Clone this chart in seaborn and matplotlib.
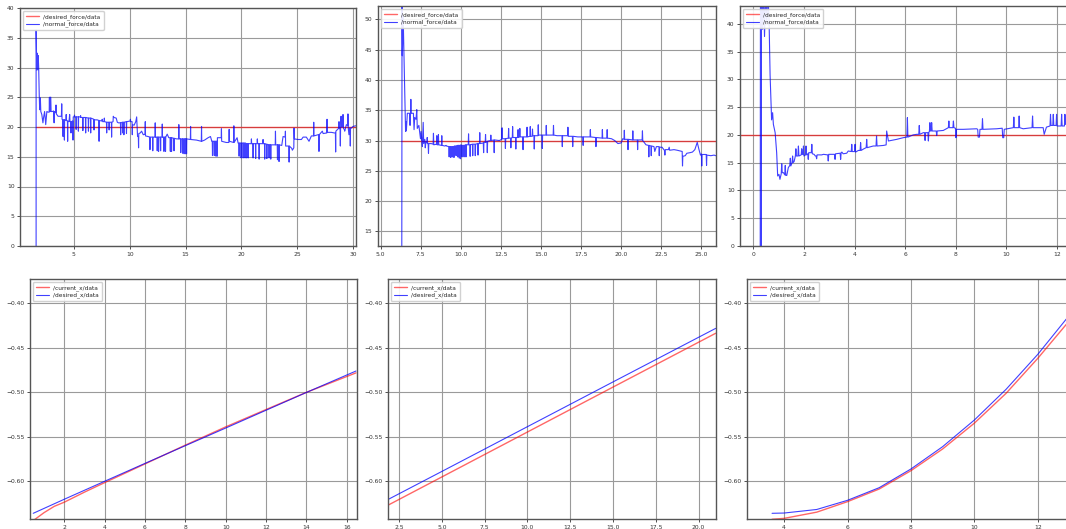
import matplotlib
matplotlib.use("Agg")
import matplotlib.pyplot as plt
import seaborn as sns
from matplotlib.ticker import MultipleLocator

# ------------------------------------------------------------------
# run 1 : force tracking, target 20   (time s, force N)
# ------------------------------------------------------------------
run1 = [(1.64, 0.0), (1.64, 36.3), (1.70, 29.6), (1.75, 32.4), (1.79, 29.6), (1.83, 32.0), (1.87, 30.0),
        (1.92, 25.4), (1.96, 22.9), (2.02, 24.9), (2.06, 22.6), (2.15, 22.1), (2.25, 20.7), (2.30, 21.5),
        (2.40, 22.6), (2.50, 20.4), (2.60, 22.6), (2.70, 22.5), (2.81, 22.5), (2.83, 25.0), (2.85, 22.6),
        (2.90, 22.6), (2.92, 25.0), (2.95, 25.0), (2.98, 22.6), (3.10, 22.6), (3.20, 22.7), (3.25, 20.7),
        (3.28, 22.6), (3.40, 22.4), (3.42, 23.7), (3.45, 22.2), (3.60, 21.8), (3.90, 21.8), (3.93, 23.9),
        (3.96, 21.3), (4.03, 21.2), (4.05, 18.4), (4.07, 21.2), (4.15, 21.2), (4.17, 17.8), (4.19, 21.2),
        (4.30, 21.1), (4.33, 22.1), (4.36, 21.1), (4.44, 21.0), (4.46, 17.6), (4.48, 21.0), (4.58, 20.9),
        (4.64, 22.1), (4.67, 20.9), (4.74, 20.9), (4.76, 19.0), (4.78, 20.9), (4.92, 21.0), (4.94, 17.8),
        (4.96, 21.7), (5.05, 21.7), (5.07, 22.0), (5.10, 21.7), (5.20, 21.7), (5.22, 19.6), (5.24, 21.7),
        (5.40, 21.7), (5.42, 19.3), (5.44, 21.7), (5.60, 21.7), (5.62, 21.9), (5.64, 21.6), (5.80, 21.6),
        (5.82, 19.4), (5.84, 21.6), (6.05, 21.6), (6.07, 19.0), (6.09, 21.6), (6.30, 21.5), (6.32, 19.3),
        (6.34, 21.5), (6.50, 21.5), (6.52, 19.0), (6.54, 21.5), (6.80, 21.3), (6.82, 19.5), (6.84, 21.2),
        (7.10, 21.2), (7.25, 21.1), (7.27, 17.6), (7.29, 21.1), (7.50, 21.0), (7.55, 21.3), (7.60, 20.9),
        (7.72, 20.9), (7.74, 21.5), (7.76, 20.9), (7.93, 20.8), (7.95, 19.0), (7.97, 20.8), (8.15, 20.8),
        (8.17, 19.5), (8.19, 20.8), (8.37, 20.8), (8.39, 18.3), (8.41, 20.8), (8.52, 20.9), (8.54, 21.8),
        (8.60, 21.6), (8.80, 21.5), (8.90, 20.8), (9.00, 20.7), (9.18, 20.7), (9.20, 18.7), (9.22, 20.7),
        (9.35, 20.8), (9.37, 19.0), (9.39, 20.8), (9.47, 20.8), (9.49, 18.7), (9.51, 20.8), (9.70, 20.9),
        (9.72, 18.9), (9.74, 20.9), (10.05, 21.0), (10.07, 21.3), (10.10, 20.9), (10.22, 20.9),
        (10.24, 18.7), (10.26, 20.4), (10.40, 20.3), (10.55, 20.9), (10.63, 21.7), (10.68, 19.5),
        (10.71, 18.4), (10.78, 18.4), (10.80, 16.5), (10.82, 18.9), (10.95, 19.0), (11.07, 19.3),
        (11.22, 18.7), (11.38, 18.8), (11.40, 20.9), (11.42, 18.5), (11.65, 18.4), (11.80, 18.3),
        (11.82, 16.2), (11.84, 18.3), (12.05, 18.3), (12.07, 16.0), (12.09, 18.3), (12.27, 18.3),
        (12.29, 20.7), (12.31, 18.3), (12.45, 18.3), (12.47, 16.0), (12.49, 18.3), (12.57, 18.3),
        (12.59, 15.9), (12.61, 18.3), (12.75, 18.3), (12.77, 16.0), (12.79, 18.3), (12.90, 18.3),
        (12.92, 20.5), (12.94, 18.3), (13.05, 18.3), (13.07, 15.9), (13.09, 18.3), (13.19, 18.3),
        (13.21, 15.9), (13.23, 18.3), (13.36, 18.8), (13.50, 18.2), (13.62, 18.2), (13.64, 15.9),
        (13.66, 18.2), (13.73, 18.2), (13.75, 15.9), (13.77, 18.2), (13.95, 18.1), (13.97, 16.0),
        (13.99, 18.1), (14.20, 18.0), (14.38, 18.0), (14.40, 20.4), (14.42, 18.0), (14.55, 18.0),
        (14.57, 15.7), (14.59, 18.0), (14.71, 18.0), (14.73, 15.6), (14.75, 18.0), (14.85, 18.0),
        (14.87, 15.5), (14.89, 18.0), (14.97, 18.0), (14.99, 15.5), (15.01, 18.0), (15.07, 18.0),
        (15.09, 15.5), (15.11, 18.0), (15.43, 17.9), (15.45, 20.1), (15.47, 17.9), (15.98, 17.8),
        (16.41, 17.6), (16.43, 20.1), (16.45, 17.6), (16.70, 17.8), (17.02, 18.2), (17.23, 18.4),
        (17.35, 17.6), (17.39, 17.6), (17.41, 15.2), (17.43, 17.6), (17.55, 17.6), (17.57, 15.2),
        (17.59, 17.6), (17.70, 17.6), (17.72, 15.1), (17.74, 17.6), (17.81, 17.6), (17.83, 15.1),
        (17.85, 18.2), (18.19, 18.2), (18.21, 19.7), (18.23, 17.6), (18.64, 17.4), (18.88, 17.4),
        (18.90, 19.6), (18.92, 17.6), (19.30, 17.4), (19.32, 20.2), (19.34, 17.4), (19.61, 18.2),
        (19.70, 17.3), (19.77, 17.3), (19.79, 15.1), (19.81, 17.3), (19.95, 17.3), (19.97, 14.8),
        (19.99, 17.3), (20.13, 17.3), (20.15, 14.8), (20.17, 17.3), (20.30, 17.3), (20.32, 14.8),
        (20.34, 17.3), (20.45, 17.2), (20.47, 14.8), (20.49, 17.2), (20.58, 17.2), (20.60, 14.8),
        (20.62, 17.2), (20.87, 17.2), (20.89, 18.0), (20.91, 17.2), (21.02, 17.2), (21.04, 14.8),
        (21.06, 17.2), (21.25, 17.2), (21.27, 14.7), (21.29, 17.2), (21.40, 17.2), (21.42, 18.0),
        (21.44, 17.2), (21.56, 17.2), (21.58, 14.6), (21.60, 17.2), (21.91, 17.2), (21.93, 17.9),
        (21.95, 17.2), (22.06, 17.2), (22.08, 14.6), (22.10, 17.2), (22.25, 17.1), (22.27, 14.7),
        (22.29, 17.1), (22.45, 17.0), (22.47, 14.8), (22.49, 17.0), (22.60, 17.0), (22.62, 14.6),
        (22.64, 17.0), (22.83, 17.0), (23.02, 17.0), (23.04, 19.3), (23.06, 17.0), (23.20, 17.0),
        (23.22, 14.5), (23.24, 17.0), (23.34, 17.0), (23.36, 14.2), (23.38, 17.0), (23.60, 16.9),
        (23.72, 18.4), (23.91, 18.3), (23.93, 19.3), (23.95, 16.8), (24.24, 16.8), (24.26, 14.1),
        (24.28, 16.8), (24.50, 16.4), (24.55, 16.1), (24.68, 16.5), (24.70, 19.8), (24.73, 18.0),
        (25.06, 17.9), (25.36, 17.9), (25.51, 18.3), (25.80, 18.3), (26.04, 17.6), (26.25, 18.5),
        (26.44, 18.5), (26.46, 20.8), (26.48, 18.5), (26.85, 18.7), (26.91, 18.7), (26.93, 15.9),
        (26.95, 18.7), (27.23, 19.3), (27.30, 18.9), (27.63, 19.0), (27.65, 21.3), (27.67, 19.1),
        (28.04, 19.1), (28.30, 19.0), (28.40, 19.0), (28.42, 15.8), (28.44, 19.3), (28.60, 19.6),
        (28.70, 19.8), (28.72, 20.9), (28.74, 19.8), (28.82, 19.6), (28.84, 16.8), (28.86, 19.6),
        (28.90, 21.8), (28.95, 20.0), (29.00, 21.8), (29.05, 20.0), (29.08, 22.1), (29.12, 19.8),
        (29.21, 19.5), (29.23, 19.3), (29.38, 20.4), (29.50, 20.2), (29.52, 22.2), (29.55, 19.8),
        (29.61, 18.7), (29.66, 19.8), (29.71, 19.8), (29.73, 16.8), (29.75, 19.8), (29.82, 19.8),
        (29.97, 20.1), (30.21, 20.2)]
des1 = [(1.64, 20.0), (30.3, 20.0)]

# ------------------------------------------------------------------
# run 2 : force tracking, target 30
# ------------------------------------------------------------------
run2 = [(6.31, 0.0), (6.33, 52.5), (6.35, 44.0), (6.40, 50.5), (6.44, 45.5), (6.48, 40.0), (6.52, 35.1),
        (6.55, 31.5), (6.57, 33.1), (6.60, 31.6), (6.66, 34.5), (6.80, 34.5), (6.83, 32.5), (6.86, 34.5),
        (6.88, 36.8), (6.90, 34.5), (7.04, 34.5), (7.08, 31.8), (7.12, 33.8), (7.20, 33.5), (7.25, 35.1),
        (7.28, 32.0), (7.38, 32.5), (7.45, 31.0), (7.48, 30.3), (7.52, 31.5), (7.56, 30.0), (7.60, 29.0),
        (7.62, 30.5), (7.65, 33.0), (7.68, 29.5), (7.75, 30.2), (7.78, 28.8), (7.82, 29.8), (7.88, 29.6),
        (7.90, 30.5), (7.93, 29.5), (7.96, 29.4), (7.98, 27.9), (8.00, 29.5), (8.15, 29.5), (8.27, 29.4),
        (8.29, 31.2), (8.31, 29.3), (8.48, 29.4), (8.50, 30.8), (8.52, 29.3), (8.58, 29.3), (8.60, 31.0),
        (8.62, 29.3), (8.79, 29.2), (8.81, 30.8), (8.83, 29.2), (9.00, 29.1), (9.08, 29.2), (9.10, 29.1),
        (9.25, 29.0), (9.27, 27.3), (9.29, 29.0), (9.35, 29.0), (9.37, 27.2), (9.39, 29.0), (9.45, 29.0),
        (9.47, 27.3), (9.49, 29.0), (9.55, 29.0), (9.57, 27.2), (9.59, 29.1), (9.68, 29.1), (9.70, 27.5),
        (9.72, 29.1), (9.78, 29.2), (9.80, 27.3), (9.82, 29.2), (9.88, 29.2), (9.90, 27.1), (9.92, 29.2),
        (9.96, 29.2), (9.98, 27.0), (10.00, 29.3), (10.06, 29.2), (10.08, 27.3), (10.10, 29.2),
        (10.18, 29.2), (10.20, 27.3), (10.22, 29.2), (10.30, 29.3), (10.32, 27.3), (10.34, 29.3),
        (10.46, 29.3), (10.48, 31.1), (10.50, 29.3), (10.56, 29.3), (10.58, 27.4), (10.60, 29.3),
        (10.72, 29.4), (10.74, 27.5), (10.76, 29.4), (10.88, 29.4), (10.90, 27.5), (10.92, 29.4),
        (11.05, 29.5), (11.07, 27.6), (11.09, 29.5), (11.16, 29.5), (11.18, 31.3), (11.20, 29.5),
        (11.40, 29.6), (11.42, 28.0), (11.44, 29.7), (11.52, 29.7), (11.54, 31.0), (11.56, 29.7),
        (11.63, 29.8), (11.65, 28.0), (11.67, 29.9), (11.85, 30.0), (11.87, 30.9), (11.89, 30.0),
        (12.06, 30.1), (12.08, 28.0), (12.10, 30.1), (12.40, 30.0), (12.55, 30.2), (12.57, 32.1),
        (12.59, 30.3), (12.76, 30.3), (12.78, 28.7), (12.80, 30.3), (12.96, 30.4), (12.98, 32.0),
        (13.00, 30.4), (13.10, 30.4), (13.12, 28.8), (13.14, 30.4), (13.21, 30.5), (13.23, 32.3),
        (13.25, 30.5), (13.41, 30.5), (13.43, 28.6), (13.45, 30.5), (13.55, 30.5), (13.57, 31.8),
        (13.59, 30.5), (13.66, 30.6), (13.68, 32.0), (13.70, 30.6), (13.86, 30.6), (13.88, 28.5),
        (13.90, 30.6), (14.11, 30.6), (14.13, 32.2), (14.15, 30.6), (14.31, 30.7), (14.33, 32.3),
        (14.35, 30.7), (14.45, 30.7), (14.47, 31.9), (14.49, 30.8), (14.56, 30.8), (14.58, 28.6),
        (14.60, 30.8), (14.81, 30.8), (14.83, 32.6), (14.85, 30.9), (15.06, 30.9), (15.08, 28.7),
        (15.10, 30.9), (15.31, 30.9), (15.33, 32.5), (15.35, 30.9), (15.76, 30.9), (15.78, 32.5),
        (15.80, 30.9), (16.00, 30.8), (16.31, 30.8), (16.33, 29.0), (16.35, 30.8), (16.66, 30.8),
        (16.68, 32.2), (16.70, 30.7), (16.96, 30.7), (16.98, 29.0), (17.00, 30.7), (17.30, 30.6),
        (17.61, 30.6), (17.63, 29.2), (17.65, 30.6), (18.06, 30.6), (18.08, 31.8), (18.10, 30.6),
        (18.41, 30.5), (18.43, 29.0), (18.45, 30.5), (18.81, 30.4), (18.83, 31.8), (18.85, 30.4),
        (19.11, 30.4), (19.13, 31.8), (19.15, 30.4), (19.40, 30.3), (19.60, 30.0), (19.80, 29.5),
        (20.00, 29.6), (20.10, 30.3), (20.18, 30.2), (20.20, 31.7), (20.22, 30.2), (20.41, 30.2),
        (20.43, 28.5), (20.45, 30.2), (20.71, 30.1), (20.73, 31.6), (20.75, 30.1), (21.01, 30.1),
        (21.03, 28.5), (21.05, 30.1), (21.31, 30.1), (21.33, 31.6), (21.35, 30.0), (21.55, 29.3),
        (21.71, 29.2), (21.73, 27.3), (21.75, 29.2), (21.86, 29.1), (21.88, 27.5), (21.90, 29.1),
        (22.05, 29.0), (22.10, 28.2), (22.20, 29.0), (22.36, 29.0), (22.38, 27.5), (22.40, 28.9),
        (22.55, 28.9), (22.70, 28.4), (22.73, 27.6), (22.76, 28.5), (22.95, 28.5), (23.00, 28.9),
        (23.03, 28.4), (23.30, 28.5), (23.50, 28.4), (23.65, 28.3), (23.81, 28.2), (23.83, 25.8),
        (23.85, 27.4), (24.00, 27.5), (24.10, 27.9), (24.30, 28.0), (24.45, 28.1), (24.60, 28.5),
        (24.75, 29.7), (24.85, 28.6), (24.95, 27.6), (25.01, 27.8), (25.03, 25.8), (25.05, 27.7),
        (25.31, 27.7), (25.33, 25.9), (25.35, 27.6), (25.60, 27.5), (25.80, 27.6), (25.90, 27.5)]
des2 = [(6.27, 30.0), (26.0, 30.0)]

# ------------------------------------------------------------------
# run 3 : force tracking, target 20
# ------------------------------------------------------------------
run3 = [(0.27, 0.0), (0.28, 55.0), (0.31, 0.0), (0.32, 55.0), (0.36, 39.0), (0.40, 46.0), (0.44, 37.7),
        (0.48, 46.0), (0.53, 40.0), (0.57, 46.0), (0.62, 40.5), (0.66, 30.8), (0.72, 22.7), (0.76, 24.0),
        (0.79, 21.9), (0.86, 20.4), (0.92, 16.8), (0.96, 12.6), (1.01, 12.9), (1.05, 12.0), (1.10, 13.0),
        (1.12, 14.8), (1.14, 13.2), (1.19, 13.2), (1.24, 12.8), (1.26, 14.5), (1.28, 12.7), (1.32, 12.7),
        (1.38, 14.1), (1.44, 14.5), (1.46, 15.8), (1.48, 14.4), (1.53, 15.0), (1.55, 16.2), (1.57, 15.0),
        (1.61, 15.2), (1.66, 16.2), (1.68, 17.5), (1.70, 16.2), (1.76, 16.2), (1.78, 18.0), (1.80, 16.2),
        (1.89, 16.4), (1.91, 17.5), (1.93, 16.5), (1.96, 16.5), (1.98, 18.0), (2.00, 16.2), (2.06, 16.4),
        (2.08, 18.0), (2.10, 16.4), (2.15, 16.6), (2.17, 15.6), (2.19, 16.8), (2.29, 16.8), (2.31, 18.3),
        (2.33, 16.6), (2.40, 16.5), (2.45, 16.2), (2.48, 16.2), (2.50, 15.7), (2.52, 16.4), (2.70, 16.4),
        (2.77, 16.5), (2.94, 16.4), (2.96, 15.3), (2.98, 16.5), (3.21, 16.5), (3.23, 15.6), (3.25, 16.6),
        (3.43, 16.7), (3.45, 15.6), (3.47, 16.8), (3.50, 16.9), (3.55, 16.6), (3.69, 16.7), (3.75, 17.1),
        (3.87, 17.0), (3.89, 18.3), (3.91, 17.0), (4.00, 17.0), (4.02, 18.3), (4.04, 16.9), (4.15, 17.2),
        (4.22, 17.2), (4.24, 18.6), (4.26, 17.2), (4.37, 17.5), (4.46, 17.7), (4.48, 19.2), (4.50, 17.7),
        (4.74, 18.0), (4.85, 18.0), (4.87, 19.8), (4.89, 18.0), (5.14, 18.1), (5.25, 18.2), (5.27, 20.7),
        (5.34, 18.9), (5.67, 19.2), (5.93, 19.5), (6.07, 19.6), (6.09, 23.1), (6.11, 19.6), (6.32, 20.0),
        (6.46, 20.1), (6.54, 20.1), (6.56, 21.7), (6.58, 20.1), (6.72, 20.4), (6.77, 20.4), (6.79, 19.0),
        (6.81, 20.4), (6.90, 20.4), (6.92, 18.9), (6.94, 20.5), (6.96, 20.6), (6.98, 22.2), (7.00, 20.7),
        (7.03, 20.7), (7.05, 22.2), (7.07, 20.7), (7.23, 20.7), (7.25, 19.9), (7.27, 20.7), (7.51, 20.8),
        (7.71, 21.3), (7.73, 22.5), (7.75, 21.3), (7.89, 21.3), (7.91, 22.5), (7.93, 21.3), (7.99, 21.2),
        (8.01, 19.5), (8.03, 21.0), (8.30, 21.0), (8.83, 21.1), (8.87, 21.0), (8.89, 19.6), (8.94, 19.6),
        (8.96, 21.0), (9.04, 21.0), (9.06, 22.9), (9.08, 21.0), (9.62, 21.1), (9.84, 21.2), (9.86, 19.5),
        (9.90, 19.5), (9.92, 21.0), (10.28, 21.3), (10.30, 23.2), (10.32, 21.3), (10.49, 21.3),
        (10.51, 23.4), (10.53, 21.3), (10.67, 21.1), (11.02, 21.3), (11.04, 23.4), (11.06, 21.3),
        (11.46, 21.3), (11.50, 20.1), (11.59, 21.4), (11.73, 21.6), (11.75, 23.7), (11.77, 21.7),
        (11.84, 21.7), (11.86, 23.7), (11.88, 21.7), (11.97, 21.7), (11.99, 23.7), (12.01, 21.6),
        (12.17, 21.6), (12.19, 23.7), (12.21, 21.6), (12.30, 21.6), (12.32, 23.7), (12.34, 21.9),
        (12.40, 21.9)]
des3 = [(-0.6, 20.0), (12.7, 20.0)]

# ------------------------------------------------------------------
# x position, runs 1-3
# ------------------------------------------------------------------
cx4_t = [0.46, 1.0, 1.5, 2.0, 3.0, 4.0, 6.0, 8.0, 10.0, 12.0, 14.0, 16.46]
cx4 = [-0.6445, -0.6355, -0.6285, -0.6238, -0.6125, -0.6018, -0.5808, -0.5597, -0.5392,
       -0.5197, -0.5004, -0.4785]
dx4_t = [0.46, 2.0, 4.0, 6.0, 8.0, 10.0, 12.0, 14.0, 16.46]
dx4 = [-0.6363, -0.6205, -0.6003, -0.5802, -0.5603, -0.5405, -0.5205, -0.5005, -0.4764]

cx5_t = [1.88, 5.0, 10.0, 15.0, 21.0]
cx5 = [-0.6270, -0.5955, -0.5450, -0.4945, -0.4340]
dx5_t = [1.88, 5.0, 10.0, 15.0, 21.0]
dx5 = [-0.6206, -0.5893, -0.5390, -0.4887, -0.4285]

cx6_t = [3.62, 4.0, 5.03, 6.0, 7.0, 8.0, 9.0, 10.0, 11.0, 12.0, 12.9]
cx6 = [-0.6430, -0.6420, -0.6350, -0.6232, -0.6090, -0.5884, -0.5640, -0.5350, -0.5015,
       -0.4622, -0.4240]
dx6_t = [3.62, 4.0, 5.03, 6.0, 7.0, 8.0, 9.0, 10.0, 11.0, 12.0, 12.9]
dx6 = [-0.6363, -0.6360, -0.6320, -0.6217, -0.6075, -0.5865, -0.5614, -0.5315, -0.4970,
       -0.4577, -0.4180]


def cols(pairs):
    return [p[0] for p in pairs], [p[1] for p in pairs]


sns.set_theme(style="whitegrid", rc={
    "grid.color": "#9a9a9a",
    "grid.linewidth": 0.8,
    "axes.edgecolor": "#555555",
    "axes.linewidth": 1.0,
    "xtick.color": "#333333",
    "ytick.color": "#333333",
    "xtick.bottom": True,
    "ytick.left": True,
})
plt.rcParams["font.family"] = ["DejaVu Sans"]

W, H = 1066, 529
fig = plt.figure(figsize=(W / 100, H / 100), dpi=100)


def px_axes(left, top, right, bottom):
    return fig.add_axes([left / W, 1 - bottom / H, (right - left) / W, (bottom - top) / H])


def draw(ax, rx, ry, rlab, bx, by, blab, xlim, ylim, xstep, ystep):
    sns.lineplot(x=rx, y=ry, ax=ax, color="red", alpha=0.6, lw=1.0, label=rlab,
                 estimator=None, sort=False)
    sns.lineplot(x=bx, y=by, ax=ax, color="blue", alpha=0.75, lw=0.8, label=blab,
                 estimator=None, sort=False)
    ax.set_xlim(*xlim)
    ax.set_ylim(*ylim)
    ax.xaxis.set_major_locator(MultipleLocator(xstep))
    ax.yaxis.set_major_locator(MultipleLocator(ystep))
    ax.tick_params(labelsize=4.3, length=2.5, width=0.6, pad=1.5)
    ax.set_xlabel("")
    ax.set_ylabel("")
    ax.legend(loc="upper left", fontsize=4.2, handlelength=2.2, borderpad=0.5,
              labelspacing=0.35, frameon=True, framealpha=0.9)


x1, y1 = cols(run1)
dx1, dy1 = cols(des1)
ax1 = px_axes(20, 8, 356, 246)
draw(ax1, dx1, dy1, "/desired_force/data", x1, y1, "/normal_force/data",
     (0.2, 30.24), (0, 40), 5, 5)

x2, y2 = cols(run2)
dx2, dy2 = cols(des2)
ax2 = px_axes(378, 6, 716, 246)
draw(ax2, dx2, dy2, "/desired_force/data", x2, y2, "/normal_force/data",
     (4.83, 25.92), (12.6, 52.2), 2.5, 5)

x3, y3 = cols(run3)
dx3, dy3 = cols(des3)
ax3 = px_axes(740, 6, 1072, 246)
draw(ax3, dx3, dy3, "/desired_force/data", x3, y3, "/normal_force/data",
     (-0.53, 12.6), (0, 43.2), 2, 5)

ax4 = px_axes(30, 279, 357, 519)
draw(ax4, cx4_t, cx4, "/current_x/data", dx4_t, dx4, "/desired_x/data",
     (0.3, 16.51), (-0.6427, -0.373), 2, 0.05)

ax5 = px_axes(388, 279, 716, 519)
draw(ax5, cx5_t, cx5, "/current_x/data", dx5_t, dx5, "/desired_x/data",
     (1.86, 21.02), (-0.6427, -0.373), 2.5, 0.05)

ax6 = px_axes(747, 279, 1072, 519)
draw(ax6, cx6_t, cx6, "/current_x/data", dx6_t, dx6, "/desired_x/data",
     (2.83, 13.08), (-0.6427, -0.373), 2, 0.05)

fig.savefig("out.png", dpi=100)
